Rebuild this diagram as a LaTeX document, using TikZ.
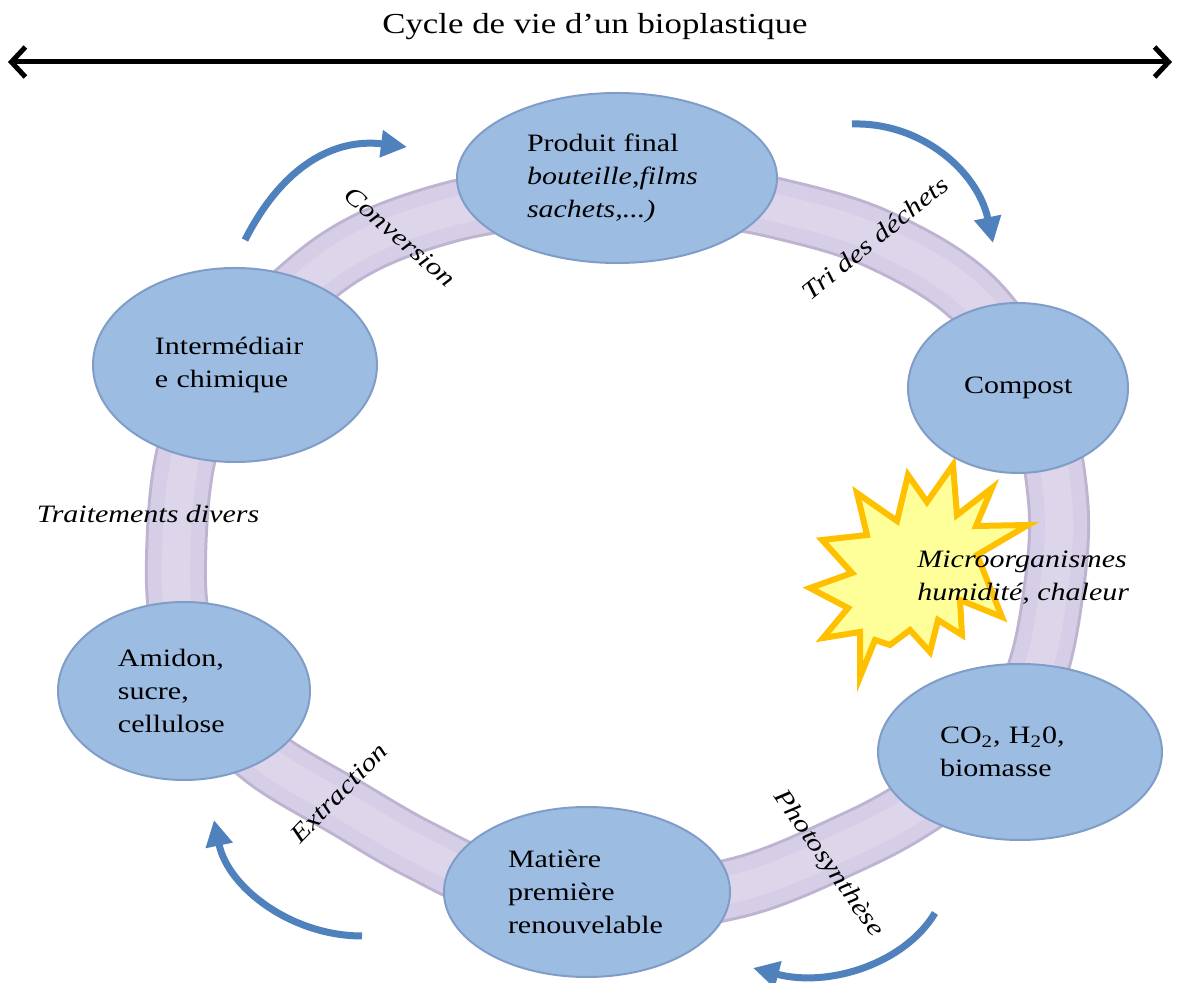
\documentclass[tikz,border=0pt]{standalone}
\usepackage{fontspec}
\setmainfont{Liberation Serif}[FakeStretch=1.2]
\usetikzlibrary{arrows.meta,shapes.geometric}
\definecolor{nodeblue}{RGB}{157,188,226}
\definecolor{nodeedge}{RGB}{128,157,200}
\definecolor{ringedge}{RGB}{190,180,210}
\definecolor{ringfill}{RGB}{214,206,230}
\definecolor{ringlight}{RGB}{221,214,235}
\definecolor{arrowblue}{RGB}{79,129,189}
\definecolor{staredge}{RGB}{255,192,0}
\definecolor{starfill}{RGB}{255,255,153}
\newcommand{\bodyfont}{\fontsize{12.5}{16.5}\selectfont}
\tikzset{
  stage/.style={ellipse, fill=nodeblue, draw=nodeedge, line width=1pt, inner sep=0pt, align=left, font=\bodyfont},
  cyclearrow/.style={draw=arrowblue, line width=3.5pt, -{Triangle[length=13pt,width=13pt]}},
  steplabel/.style={font=\bodyfont\itshape, inner sep=0pt},
  bandring/.style={line width=31pt, draw=ringedge,
     postaction={draw=ringfill, line width=28pt},
     postaction={draw=ringlight, line width=14pt}},
  burst/.style={fill=starfill, draw=staredge, line width=3pt, line join=miter},
  titlearrow/.style={line width=2.5pt, {Straight Barb[length=7pt,width=15pt]}-{Straight Barb[length=7pt,width=15pt]}}
}
\begin{document}
\begin{tikzpicture}[x=0.5pt,y=-0.5pt]
\fill[white] (0,0) rectangle (1180,983);
\useasboundingbox (0,0) rectangle (1180,983);

% title and double arrow
\node[font=\fontsize{14.5}{18}\selectfont, anchor=base, inner sep=0pt] (title) at (595,34) {Cycle de vie d’un bioplastique};
\coordinate (aL) at (8,62);
\coordinate (aR) at (1172,62);
\draw[titlearrow] (aL) -- (aR);

% ring band
\draw[bandring] plot[smooth cycle, tension=0.6] coordinates {
 (617,191) (700,196) (780,209) (880,240) (975,300) (1035,395) (1058,500)
 (1053,595) (1032,685) (985,755) (920,805) (850,843) (740,887) (617,902)
 (500,885) (420,850) (347,808) (263,757) (210,700) (182,630) (176,560)
 (185,460) (215,375) (297,291) (363,244) (447,213) (530,198)};

% starburst
\draw[burst] (953,465) -- (957,515) -- (992,488) -- (976,526) -- (1028,525)
  -- (977,555) -- (1002,617) -- (960,600) -- (962,635) -- (938,620)
  -- (930,652) -- (910,630) -- (890,645) -- (875,640) -- (860,677)
  -- (860,632) -- (823,638) -- (848,608) -- (810,588) -- (852,573)
  -- (822,540) -- (867,535) -- (857,493) -- (897,521) -- (908,475)
  -- (927,502) -- cycle;

% stages
\node[stage, minimum width=160pt, minimum height=85pt, text width=90pt] (produit) at (617,178)
  {Produit final\\\textit{bouteille,films}\\\textit{sachets,...)}};
\node[stage, minimum width=110pt, minimum height=85pt, text width=54pt] (compost) at (1018,388)
  {Compost};
\node[stage, minimum width=142pt, minimum height=88pt, text width=80pt] (co2) at (1020,752)
  {CO\textsubscript{2}, H\textsubscript{2}0,\\biomasse};
\node[stage, minimum width=143pt, minimum height=85pt, text width=79pt] (matiere) at (587,892)
  {Matière\\première\\renouvelable};
\node[stage, minimum width=126pt, minimum height=89pt, text width=66pt] (amidon) at (184,691)
  {Amidon,\\sucre,\\cellulose};
\node[stage, minimum width=142pt, minimum height=97pt, text width=80pt] (inter) at (235,365)
  {Intermédiair\\e chimique};

% step labels
\node[steplabel, rotate=-41] (conv) at (400,237) {Conversion};
\node[steplabel, rotate=39] (tri) at (875,238) {Tri des déchets};
\node[steplabel, rotate=46] (extr) at (339,793) {Extraction};
\node[steplabel, rotate=-55] (photo) at (828,864) {Photosynthèse};
\node[steplabel] (trait) at (148,514) {Traitements divers};
\node[steplabel, anchor=west, align=left] (micro) at (917,578) {Microorganismes\\humidité, chaleur};

% cycle arrows
\coordinate (tlS) at (245,240); \coordinate (tlE) at (407,147);
\draw[cyclearrow] (tlS) .. controls (283,165) and (335,138) .. (tlE);
\coordinate (trS) at (852,124); \coordinate (trE) at (993,243);
\draw[cyclearrow] (trS) .. controls (922,122) and (978,172) .. (trE);
\coordinate (brS) at (935,913); \coordinate (brE) at (753,968);
\draw[cyclearrow] (brS) .. controls (905,963) and (830,988) .. (brE);
\coordinate (blS) at (362,936); \coordinate (blE) at (214,820);
\draw[cyclearrow] (blS) .. controls (292,936) and (228,888) .. (blE);
\end{tikzpicture}
\end{document}
